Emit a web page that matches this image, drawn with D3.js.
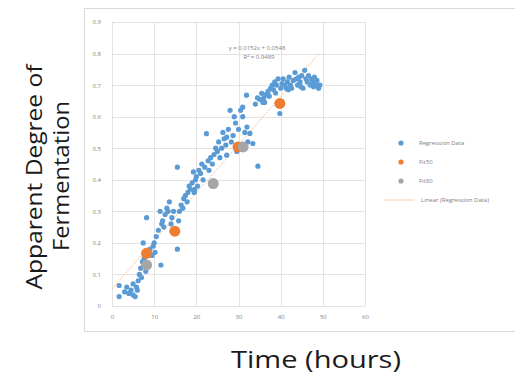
<!DOCTYPE html>
<html>
<head>
<meta charset="utf-8">
<script src="https://cdn.jsdelivr.net/npm/d3@7"></script>
<style>
  body { margin: 0; background: #fff; }
  svg { display: block; }
</style>
</head>
<body>
<svg id="chart" width="515" height="377"></svg>
<script>
// Regression data: [time (h), apparent degree of fermentation]
const regressionData = [
  [1.7,0.03],[1.7,0.065],[3,0.045],[3.5,0.06],[4,0.04],[4.5,0.05],[5,0.035],[5.5,0.03],[5,0.07],[5.8,0.06],
  [6.2,0.08],[6.5,0.1],[6.8,0.12],[7,0.09],[7.2,0.14],[7.4,0.2],[7.6,0.15],[8,0.11],[8.2,0.28],[8.5,0.13],
  [9,0.18],[9.5,0.16],[10,0.2],[10.2,0.17],[10.5,0.22],[11,0.24],[11.4,0.3],[11.6,0.13],[11.8,0.26],[12,0.27],
  [12.3,0.25],[12.6,0.29],[13,0.31],[13.3,0.3],[13.6,0.33],[14,0.26],[14.2,0.28],[15.5,0.18],[15.5,0.44],[15.8,0.27],
  [16,0.3],[16.4,0.32],[16.8,0.31],[17,0.34],[17.4,0.35],[17.8,0.33],[18,0.36],[18.3,0.38],[18.6,0.37],[19,0.39],
  [19.3,0.425],[19.5,0.36],[19.8,0.4],[20,0.41],[20.3,0.38],[20.6,0.43],[21,0.42],[21.3,0.45],[21.6,0.4],[22,0.44],
  [22.4,0.546],[22.8,0.46],[23,0.43],[23.4,0.47],[23.8,0.45],[24.2,0.48],[24.6,0.5],[25,0.49],[25.3,0.52],[25.6,0.47],
  [26,0.5],[26.3,0.55],[26.6,0.53],[27,0.51],[27.2,0.478],[27.2,0.535],[27.6,0.56],[28,0.62],[28.3,0.52],[28.7,0.54],
  [29,0.6],[29.3,0.58],[29.6,0.49],[30,0.56],[30.5,0.62],[31,0.6],[31,0.63],[31.5,0.55],[31.9,0.668],[32,0.567],
  [32.2,0.52],[32.7,0.547],[33.4,0.515],[34.6,0.443],[34,0.64],[34.5,0.66],[35,0.655],[35.5,0.674],[35.8,0.645],[36,0.66],
  [36.5,0.67],[37,0.68],[37.3,0.665],[37.6,0.69],[38,0.7],[38.3,0.685],[38.6,0.71],[39,0.7],[39.4,0.72],[39.8,0.61],
  [40,0.69],[40.3,0.705],[40.6,0.72],[41,0.7],[41.3,0.69],[41.6,0.71],[42,0.725],[42.3,0.7],[42.6,0.69],[43,0.715],
  [43.4,0.74],[43.7,0.72],[44,0.7],[44.3,0.725],[44.6,0.71],[45,0.73],[45.3,0.69],[45.7,0.747],[46,0.72],[46.3,0.71],
  [46.6,0.73],[47,0.7],[47.3,0.72],[47.6,0.71],[48,0.725],[48.3,0.7],[48.6,0.715],[49.3,0.7],[49,0.69],
  [38.8,0.675],[41.8,0.685],[44.8,0.695],[47.8,0.695],[36.2,0.645],[19.6,0.37],[14.6,0.3],[9.8,0.19],[6,0.05]
];
const fit50 = [[8.2,0.167],[14.9,0.237],[29.9,0.504],[39.8,0.642]];
const fit80 = [[8.2,0.13],[24,0.388],[31.1,0.504]];
const trend = { slope: 0.0152, intercept: 0.0548, r2: 0.9489, from: 0, to: 49 };

const xTicks = [0, 10, 20, 30, 40, 50, 60];
const yTicks = [0, 0.1, 0.2, 0.3, 0.4, 0.5, 0.6, 0.7, 0.8, 0.9];
const legendItems = [
  { name: "Regression Data", color: "#5b9bd5", type: "dot" },
  { name: "Fit50", color: "#ed7d31", type: "dot" },
  { name: "Fit80", color: "#a5a5a5", type: "dot" },
  { name: "Linear (Regression Data)", color: "#f4b183", type: "line" }
];

const svg = d3.select("#chart");

// chart frame
svg.append("rect")
  .attr("x", 84.5).attr("y", 8.5)
  .attr("width", 440).attr("height", 323)
  .attr("fill", "none")
  .attr("stroke", "#d9d9d9");

const x = d3.scaleLinear().domain([0, 60]).range([112, 365]);
const y = d3.scaleLinear().domain([0, 0.9]).range([306, 22]);

// grid
svg.append("g")
  .selectAll("line")
  .data(yTicks)
  .join("line")
  .attr("x1", x(0)).attr("x2", x(60))
  .attr("y1", d => Math.round(y(d)) + 0.5).attr("y2", d => Math.round(y(d)) + 0.5)
  .attr("stroke", "#e3e3e3");

svg.append("g")
  .selectAll("line")
  .data(xTicks)
  .join("line")
  .attr("x1", d => Math.round(x(d)) + 0.5).attr("x2", d => Math.round(x(d)) + 0.5)
  .attr("y1", y(0)).attr("y2", y(0.9))
  .attr("stroke", "#e3e3e3");

// axes (labels only)
const xAxis = svg.append("g")
  .attr("transform", `translate(0,${y(0) + 6})`)
  .call(d3.axisBottom(x).tickValues(xTicks).tickSize(0).tickFormat(d3.format("d")));
xAxis.select(".domain").remove();
xAxis.selectAll("text")
  .attr("fill", "#808080")
  .style("font-family", "Open Sans, sans-serif")
  .style("font-size", "6px");

const yAxis = svg.append("g")
  .attr("transform", `translate(${x(0) - 8},0)`)
  .call(d3.axisLeft(y).tickValues(yTicks).tickSize(0).tickFormat(d => d === 0 ? "0" : d3.format(".1f")(d)));
yAxis.select(".domain").remove();
yAxis.selectAll("text")
  .attr("fill", "#808080")
  .style("font-family", "Open Sans, sans-serif")
  .style("font-size", "6px");

// trendline
svg.append("line")
  .attr("x1", x(trend.from)).attr("y1", y(trend.intercept + trend.slope * trend.from))
  .attr("x2", x(trend.to)).attr("y2", y(trend.intercept + trend.slope * trend.to))
  .attr("stroke", "#f4b183")
  .attr("stroke-width", 1)
  .attr("stroke-dasharray", "1.5,1.5");

// points
svg.append("g")
  .selectAll("circle")
  .data(regressionData)
  .join("circle")
  .attr("cx", d => x(d[0])).attr("cy", d => y(d[1]))
  .attr("r", 2.6)
  .attr("fill", "#5b9bd5");

svg.append("g")
  .selectAll("circle")
  .data(fit50)
  .join("circle")
  .attr("cx", d => x(d[0])).attr("cy", d => y(d[1]))
  .attr("r", 5.5)
  .attr("fill", "#ed7d31");

svg.append("g")
  .selectAll("circle")
  .data(fit80)
  .join("circle")
  .attr("cx", d => x(d[0])).attr("cy", d => y(d[1]))
  .attr("r", 5.5)
  .attr("fill", "#a5a5a5");

// equation label
const eq = svg.append("g")
  .attr("fill", "#808080")
  .style("font-family", "Open Sans, sans-serif")
  .style("font-size", "6px")
  .attr("text-anchor", "middle");
eq.append("text").attr("x", 257).attr("y", 50)
  .text(`y = ${trend.slope}x + ${trend.intercept}`);
eq.append("text").attr("x", 259).attr("y", 59)
  .text(`R² = ${trend.r2}`);

// legend
const legend = svg.append("g")
  .style("font-family", "Open Sans, sans-serif")
  .style("font-size", "6px");
const li = legend.selectAll("g")
  .data(legendItems)
  .join("g")
  .attr("transform", (d, i) => `translate(0,${143 + i * 19})`);
li.filter(d => d.type === "dot").append("circle")
  .attr("cx", 401).attr("cy", 0).attr("r", 2.6)
  .attr("fill", d => d.color);
li.filter(d => d.type === "line").append("line")
  .attr("x1", 385).attr("x2", 415).attr("y1", 0).attr("y2", 0)
  .attr("stroke", d => d.color)
  .attr("stroke-dasharray", "1.5,1");
li.append("text")
  .attr("x", d => d.type === "line" ? 421 : 419)
  .attr("y", 2)
  .attr("fill", "#808080")
  .text(d => d.name);

// axis titles
const titleFont = "Open Sans, sans-serif";
svg.append("text")
  .attr("transform", "translate(42,177) rotate(-90)")
  .attr("text-anchor", "middle")
  .attr("fill", "#1a1a1a")
  .attr("textLength", 225)
  .attr("lengthAdjust", "spacingAndGlyphs")
  .style("font-family", titleFont)
  .style("font-size", "22px")
  .text("Apparent Degree of");
svg.append("text")
  .attr("transform", "translate(69,176) rotate(-90)")
  .attr("text-anchor", "middle")
  .attr("fill", "#1a1a1a")
  .attr("textLength", 150)
  .attr("lengthAdjust", "spacingAndGlyphs")
  .style("font-family", titleFont)
  .style("font-size", "22px")
  .text("Fermentation");
svg.append("text")
  .attr("x", 316).attr("y", 368)
  .attr("text-anchor", "middle")
  .attr("fill", "#1a1a1a")
  .attr("textLength", 170)
  .attr("lengthAdjust", "spacingAndGlyphs")
  .style("font-family", titleFont)
  .style("font-size", "23px")
  .text("Time (hours)");
</script>
</body>
</html>
